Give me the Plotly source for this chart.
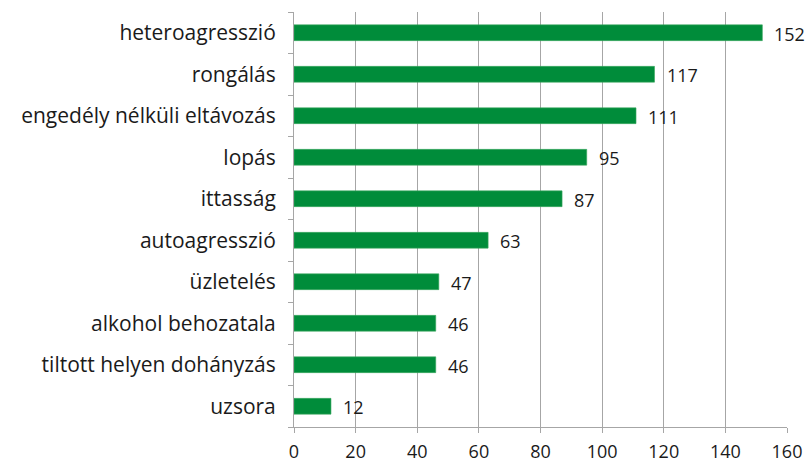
import plotly.graph_objects as go

categories = ["heteroagresszió", "rongálás", "engedély nélküli eltávozás", "lopás", "ittasság",
              "autoagresszió", "üzletelés", "alkohol behozatala", "tiltott helyen dohányzás", "uzsora"]
values = [152, 117, 111, 95, 87, 63, 47, 46, 46, 12]
x_ticks = [0, 20, 40, 60, 80, 100, 120, 140, 160]

font_family = "Open Sans, Noto Sans, sans-serif"
grid = "#a6a6a6"
txt = "#1a1a1a"

fig = go.Figure(go.Bar(
    y=categories, x=values, orientation="h",
    marker=dict(color="#008c3a", line=dict(color="#3aa860", width=0.6)),
    hoverinfo="x+y",
))

for c, v in zip(categories, values):
    fig.add_annotation(x=v, y=c, text=str(v), showarrow=False, xanchor="left",
                       xshift=10, yshift=-1, font=dict(family=font_family, size=18, color=txt))

fig.update_layout(
    width=809, height=463,
    margin=dict(l=294, r=22, t=12, b=36),
    plot_bgcolor="white", paper_bgcolor="white",
    bargap=0.62, showlegend=False,
    font=dict(family=font_family, size=18, color=txt),
)
fig.update_xaxes(
    range=[0, 160], tickvals=x_ticks, ticktext=[str(t) for t in x_ticks],
    showgrid=True, gridcolor=grid, gridwidth=1,
    showline=True, linecolor=grid, linewidth=1,
    ticks="outside", ticklen=5, tickcolor=grid,
    tickfont=dict(family=font_family, size=18, color=txt),
    ticklabelstandoff=3, automargin=False,
    zeroline=False,
)
fig.update_yaxes(
    categoryorder="array", categoryarray=categories[::-1],
    showline=True, linecolor=grid, linewidth=1,
    ticks="outside", ticklen=5, tickcolor=grid, tickson="boundaries",
    tickfont=dict(family=font_family, size=21, color=txt),
    ticklabelstandoff=13, automargin=False,
    showgrid=False,
)

fig.write_html("out.html", config={"displayModeBar": False},
               post_script="document.body.style.margin='0';")
